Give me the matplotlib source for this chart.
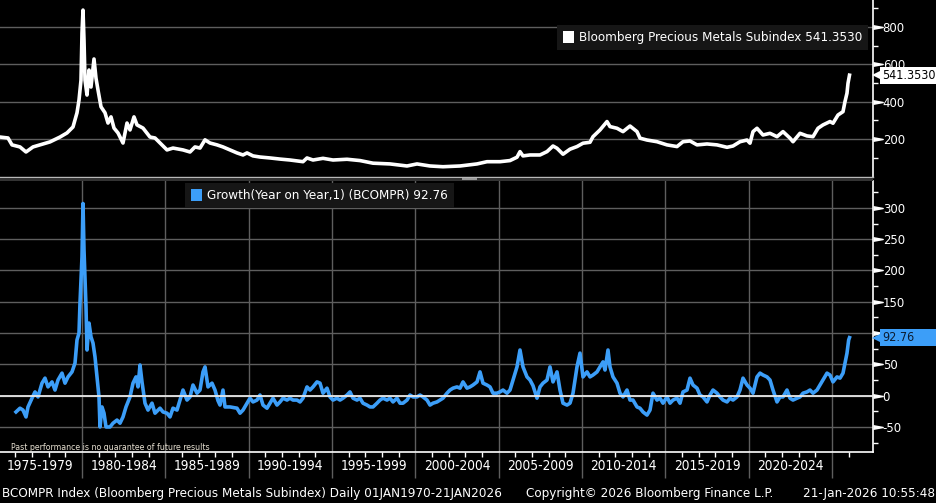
import matplotlib
matplotlib.use('Agg')
import matplotlib.pyplot as plt
import matplotlib.transforms as mtransforms
from matplotlib import font_manager as fm
from matplotlib.patches import Patch, Rectangle
import numpy as np

# ---------------- data ----------------
idx_name = 'Bloomberg Precious Metals Subindex'
idx_last = 541.3530
yoy_name = 'Growth(Year on Year,1) (BCOMPR)'
yoy_last = 92.76

idx_years = [1975.08, 1975.56, 1975.80, 1976.28, 1976.64, 1977.06, 1977.48, 1978.08, 1978.68,
             1979.10, 1979.46, 1979.70, 1979.82, 1979.94, 1980.00, 1980.06, 1980.12, 1980.18,
             1980.30, 1980.42, 1980.54, 1980.72, 1980.84, 1980.96, 1981.14, 1981.38, 1981.56,
             1981.74, 1981.92, 1982.16, 1982.46, 1982.70, 1982.88, 1983.12, 1983.30, 1983.66,
             1984.08, 1984.38, 1984.68, 1985.10, 1985.46, 1986.06, 1986.48, 1986.78, 1987.08,
             1987.38, 1987.68, 1988.10, 1988.46, 1988.88, 1989.30, 1989.66, 1989.90, 1990.26,
             1990.68, 1991.28, 1991.88, 1992.48, 1992.90, 1993.26, 1993.50, 1993.86, 1994.46,
             1995.06, 1995.90, 1996.68, 1997.46, 1998.48, 1999.50, 2000.10, 2000.88, 2001.66,
             2002.68, 2003.70, 2004.30, 2005.08, 2005.68, 2006.10, 2006.28, 2006.46, 2006.88,
             2007.48, 2007.90, 2008.26, 2008.50, 2008.86, 2009.28, 2009.70, 2010.06, 2010.48,
             2010.66, 2011.08, 2011.50, 2011.68, 2012.10, 2012.46, 2012.88, 2013.30, 2013.48,
             2013.90, 2014.50, 2015.10, 2015.70, 2016.06, 2016.48, 2016.90, 2017.50, 2018.10,
             2018.70, 2019.06, 2019.48, 2019.90, 2020.08, 2020.26, 2020.50, 2020.86, 2021.28,
             2021.70, 2022.06, 2022.48, 2022.66, 2023.08, 2023.50, 2023.86, 2024.16, 2024.46,
             2024.88, 2025.06, 2025.36, 2025.66, 2025.78, 2025.90, 2025.96, 2026.05]
idx_values = [210, 205, 168, 157, 130, 157, 168, 184, 210,
              232, 264, 340, 408, 515, 767, 890, 729, 516,
              435, 569, 478, 628, 525, 462, 372, 340, 285,
              318, 258, 232, 178, 285, 248, 318, 275, 258,
              210, 205, 178, 141, 151, 141, 130, 157, 151,
              195, 178, 168, 157, 141, 125, 114, 125, 109,
              103, 98, 92, 87, 82, 78, 98, 87, 96,
              87, 91, 84, 70, 66, 55, 66, 55, 51,
              55, 66, 78, 78, 84, 102, 132, 109, 114,
              114, 132, 162, 150, 118, 145, 159, 177, 182,
              212, 248, 293, 266, 257, 239, 269, 239, 204,
              194, 185, 168, 159, 185, 189, 168, 173, 168,
              155, 162, 185, 194, 177, 239, 257, 221, 230,
              212, 239, 204, 185, 230, 216, 212, 257, 275,
              293, 284, 328, 346, 400, 445, 498, 541.353]

yoy_years = [1976.04, 1976.28, 1976.46, 1976.64, 1976.76, 1977.00, 1977.18, 1977.36, 1977.60,
             1977.78, 1977.96, 1978.20, 1978.38, 1978.56, 1978.80, 1978.98, 1979.16, 1979.40,
             1979.58, 1979.70, 1979.82, 1979.88, 1980.00, 1980.06, 1980.12, 1980.24, 1980.30,
             1980.42, 1980.54, 1980.66, 1980.78, 1980.90, 1981.02, 1981.08, 1981.20, 1981.32,
             1981.44, 1981.68, 1981.86, 1982.10, 1982.28, 1982.46, 1982.64, 1982.88, 1983.06,
             1983.24, 1983.36, 1983.48, 1983.60, 1983.78, 1983.96, 1984.20, 1984.38, 1984.68,
             1984.86, 1985.10, 1985.28, 1985.46, 1985.70, 1985.88, 1986.06, 1986.30, 1986.48,
             1986.66, 1986.90, 1987.08, 1987.26, 1987.38, 1987.56, 1987.80, 1987.98, 1988.16,
             1988.28, 1988.46, 1988.58, 1988.88, 1989.30, 1989.48, 1989.66, 1989.90, 1990.08,
             1990.26, 1990.50, 1990.68, 1990.86, 1991.10, 1991.28, 1991.46, 1991.70, 1991.88,
             1992.06, 1992.30, 1992.48, 1992.66, 1992.90, 1993.08, 1993.26, 1993.50, 1993.68,
             1993.86, 1994.10, 1994.28, 1994.46, 1994.70, 1994.88, 1995.06, 1995.30, 1995.48,
             1995.66, 1995.90, 1996.08, 1996.26, 1996.50, 1996.68, 1996.86, 1997.10, 1997.28,
             1997.46, 1997.70, 1997.88, 1998.06, 1998.30, 1998.48, 1998.66, 1998.90, 1999.08,
             1999.26, 1999.50, 1999.68, 1999.86, 2000.10, 2000.28, 2000.46, 2000.70, 2000.88,
             2001.06, 2001.30, 2001.48, 2001.66, 2001.90, 2002.08, 2002.26, 2002.50, 2002.68,
             2002.86, 2003.10, 2003.28, 2003.46, 2003.70, 2003.88, 2004.06, 2004.30, 2004.48,
             2004.66, 2004.90, 2005.08, 2005.26, 2005.50, 2005.68, 2005.86, 2006.10, 2006.28,
             2006.46, 2006.70, 2006.88, 2007.06, 2007.30, 2007.48, 2007.66, 2007.90, 2008.08,
             2008.26, 2008.50, 2008.68, 2008.86, 2009.10, 2009.28, 2009.46, 2009.70, 2009.88,
             2010.06, 2010.30, 2010.48, 2010.66, 2010.90, 2011.08, 2011.26, 2011.38, 2011.56,
             2011.68, 2011.86, 2012.10, 2012.28, 2012.46, 2012.70, 2012.88, 2013.06, 2013.30,
             2013.48, 2013.66, 2013.90, 2014.08, 2014.26, 2014.50, 2014.68, 2014.86, 2015.10,
             2015.28, 2015.46, 2015.70, 2015.88, 2016.06, 2016.30, 2016.48, 2016.66, 2016.90,
             2017.08, 2017.26, 2017.50, 2017.68, 2017.86, 2018.10, 2018.28, 2018.46, 2018.70,
             2018.88, 2019.06, 2019.30, 2019.48, 2019.66, 2019.90, 2020.08, 2020.26, 2020.50,
             2020.68, 2020.86, 2021.10, 2021.28, 2021.46, 2021.70, 2021.88, 2022.06, 2022.30,
             2022.48, 2022.66, 2022.90, 2023.08, 2023.26, 2023.50, 2023.68, 2023.86, 2024.10,
             2024.28, 2024.46, 2024.70, 2024.88, 2025.06, 2025.30, 2025.48, 2025.66, 2025.78,
             2025.90, 2026.00, 2026.05]
yoy_values = [-26, -20, -23, -34, -18, -4, 6, -2, 20,
              28, 14, 22, 9, 25, 36, 20, 30, 38,
              52, 89, 100, 148, 222, 307, 233, 142, 73,
              116, 94, 84, 62, 30, -2, -50, -18, -28,
              -50, -50, -44, -39, -44, -34, -18, -2, 20,
              30, 14, 49, 22, -12, -23, -12, -28, -20,
              -26, -28, -34, -20, -23, -7, 9, -7, -2,
              17, 4, 9, 38, 46, 14, 20, 9, -8,
              -15, 9, -18, -18, -20, -28, -23, -12, -4,
              -10, -7, 1, -15, -20, -12, -4, -15, -10,
              -4, -7, -4, -7, -7, -10, -4, 14, 9,
              14, 22, 20, 4, 12, -2, -7, -4, -7,
              -4, 1, 6, -4, -7, -4, -12, -15, -18,
              -18, -12, -7, -4, -7, -4, -10, -4, -12,
              -12, -7, 1, -2, -2, 1, -2, -7, -15,
              -12, -10, -7, -4, 4, 9, 12, 14, 12,
              22, 12, 14, 17, 22, 38, 20, 17, 14,
              4, 4, 6, 9, 4, 9, 25, 46, 73,
              46, 30, 25, 16, -4, 14, 20, 25, 46,
              22, 38, 9, -12, -15, -12, 4, 46, 68,
              30, 38, 30, 33, 38, 46, 54, 41, 73,
              46, 30, 20, 4, -2, 9, -7, -7, -18,
              -20, -26, -31, -23, 4, -7, -4, -12, -2,
              -12, -7, -4, -12, 6, 9, 28, 17, 12,
              1, -2, -10, 1, 9, 4, -2, -7, -10,
              -4, -7, -2, 9, 28, 17, 12, 4, 30,
              36, 33, 30, 25, 9, -10, -2, -2, 9,
              -4, -7, -4, -2, 4, 6, 9, 4, 9,
              17, 25, 36, 33, 22, 30, 28, 36, 52,
              68, 89, 92.76]

period_labels = ['1975-1979', '1980-1984', '1985-1989', '1990-1994', '1995-1999',
                 '2000-2004', '2005-2009', '2010-2014', '2015-2019', '2020-2024']
period_starts = [1975, 1980, 1985, 1990, 1995, 2000, 2005, 2010, 2015, 2020]
boundary_years = [1980, 1985, 1990, 1995, 2000, 2005, 2010, 2015, 2020, 2025]
minor_years = [y for y in range(1976, 2027) if y % 5 != 0]

idx_ticks = [200, 400, 600, 800]
idx_minor = [100, 300, 500, 700, 900]
yoy_ticks = [-50, 0, 50, 100, 150, 200, 250, 300]
yoy_minor = [-75, -25, 25, 75, 125, 175, 225, 275, 325]

footer_left = 'BCOMPR Index (Bloomberg Precious Metals Subindex) Daily 01JAN1970-21JAN2026'
footer_mid = 'Copyright\u00a9 2026 Bloomberg Finance L.P.'
footer_right = '21-Jan-2026 10:55:48'
disclaimer = 'Past performance is no guarantee of future results'

# ---------------- style ----------------
names = {f.name for f in fm.fontManager.ttflist}
if 'Liberation Sans Narrow' in names:
    plt.rcParams['font.family'] = ['Liberation Sans Narrow', 'DejaVu Sans']
else:
    plt.rcParams['font.family'] = ['DejaVu Sans']
    plt.rcParams['font.stretch'] = 'condensed'

BG = 'black'
GRID = '#5e5e5e'
BLUE = '#3c9ef8'
W, H = 937, 503
XL = (1975.08, 2027.46)
FS = 9.6        # legend / footer size
TAG_FS = 9.0    # value tags
TICK_FS = 9.4   # y tick labels
XLAB_FS = 9.8   # period labels

fig = plt.figure(figsize=(W / 100, H / 100), dpi=100, facecolor=BG)


def fy(py):
    return 1 - py / H


ax1 = fig.add_axes([0, fy(177), 873 / W, 177 / H])
ax2 = fig.add_axes([0, fy(452), 873 / W, (452 - 181) / H])

tri_marker = [(0, -0.55), (3, 0), (0, 0.55)]

for ax, ticks, minor, ylim in ((ax1, idx_ticks, idx_minor, (-4, 944)),
                               (ax2, yoy_ticks, yoy_minor, (-90, 343))):
    ax.set_facecolor(BG)
    ax.set_xlim(*XL)
    ax.set_ylim(*ylim)
    ax.set_axisbelow(True)
    for s in ('left', 'top'):
        ax.spines[s].set_visible(False)
    ax.spines['right'].set_color('white')
    ax.spines['right'].set_linewidth(1.2)
    ax.yaxis.tick_right()
    ax.set_yticks(ticks)
    ax.set_yticks(minor, minor=True)
    ax.set_yticklabels([str(t) for t in ticks])
    ax.tick_params(axis='y', which='major', length=0, pad=7, labelcolor='white', labelsize=TICK_FS)
    ax.tick_params(axis='y', which='minor', length=3.5, width=1, color='white', direction='out')
    ax.grid(True, axis='y', which='major', color=GRID, lw=1)
    off = mtransforms.ScaledTranslation(0.5 / 100, 0, fig.dpi_scale_trans)
    ax.plot([1.0] * len(ticks), ticks, linestyle='none', marker=tri_marker, markersize=14,
            color='white', transform=ax.get_yaxis_transform() + off, clip_on=False, zorder=4)

# top panel
ax1.spines['bottom'].set_color('#b8b8b8')
ax1.spines['bottom'].set_linewidth(1)
ax1.set_xticks([])
ax1.plot(idx_years, idx_values, color='white', lw=2.6, solid_joinstyle='round', zorder=3)

# bottom panel
ax2.spines['bottom'].set_color('white')
ax2.spines['bottom'].set_linewidth(1.2)
ax2.set_xticks(boundary_years)
ax2.set_xticks(minor_years, minor=True)
ax2.set_xticklabels([])
ax2.tick_params(axis='x', which='major', direction='out', length=19, width=1, color=GRID)
ax2.tick_params(axis='x', which='minor', direction='out', length=3.5, width=1, color='white')
ax2.grid(True, axis='x', which='major', color=GRID, lw=1)
ax2.plot(yoy_years, yoy_values, color=BLUE, lw=2.6, solid_joinstyle='round', zorder=3)
ax2.axhline(0, color='#e8e8e8', lw=1.3, zorder=4)

xlab_tr = mtransforms.blended_transform_factory(ax2.transData, ax2.transAxes)
for start, lab in zip(period_starts, period_labels):
    ax2.text(start + 2.5, -14 / 271, lab, transform=xlab_tr, ha='center', va='center',
             color='white', fontsize=XLAB_FS, clip_on=False)

# value tags on the right axis (box runs from the arrow to the figure edge)
for ax, val, text, face, tcol in ((ax1, idx_last, f'{idx_last:.4f}', 'white', 'black'),
                                  (ax2, yoy_last, f'{yoy_last:.2f}', BLUE, '#0c1c30')):
    py = ax.transData.transform((XL[0], val))[1]
    fig.add_artist(Rectangle((880 / W, (py - 8.5) / H), 57 / W, 17 / H, transform=fig.transFigure,
                             facecolor=face, edgecolor='none', zorder=5))
    tr_arr = ax.get_yaxis_transform() + mtransforms.ScaledTranslation(5 / 100, 0, fig.dpi_scale_trans)
    ax.plot([1.0], [val], linestyle='none', marker='<', markersize=8, color=face,
            markeredgewidth=0, transform=tr_arr, clip_on=False, zorder=6)
    fig.text(882 / W, py / H, text, ha='left', va='center', color=tcol,
             fontsize=TAG_FS, zorder=7)

# legends
leg_kw = dict(loc='upper left', frameon=True, facecolor='#161616', edgecolor='none',
              framealpha=1, fancybox=False, handlelength=0.85, handleheight=0.95,
              handletextpad=0.35, borderpad=0.45, borderaxespad=0, labelcolor='white',
              fontsize=FS)
ax1.legend([Patch(facecolor='white', edgecolor='none')], [f'{idx_name} {idx_last:.4f}'],
           bbox_to_anchor=(557 / 873, 1 - 25 / 177), **leg_kw)
ax2.legend([Patch(facecolor=BLUE, edgecolor='none')], [f'{yoy_name} {yoy_last:.2f}'],
           bbox_to_anchor=(185 / 873, 1 - 2 / 271), **leg_kw)

# divider between panels
fig.add_artist(Rectangle((0, fy(181)), 873 / W, 3 / H, transform=fig.transFigure,
                         facecolor='#333333', edgecolor='none'))
fig.add_artist(Rectangle((462 / W, fy(179.5)), 15 / W, 1.2 / H, transform=fig.transFigure,
                         facecolor='#9a9a9a', edgecolor='none'))

# texts
fig.text(11 / W, fy(447), disclaimer, color='#e6dfd0', fontsize=6.3, ha='left', va='center')
fig.text(2 / W, fy(494), footer_left, color='white', fontsize=FS, ha='left', va='center')
fig.text(650 / W, fy(494), footer_mid, color='white', fontsize=FS, ha='center', va='center')
fig.text(935 / W, fy(494), footer_right, color='white', fontsize=FS, ha='right', va='center')

fig.savefig('out.png', dpi=100, facecolor=BG)
